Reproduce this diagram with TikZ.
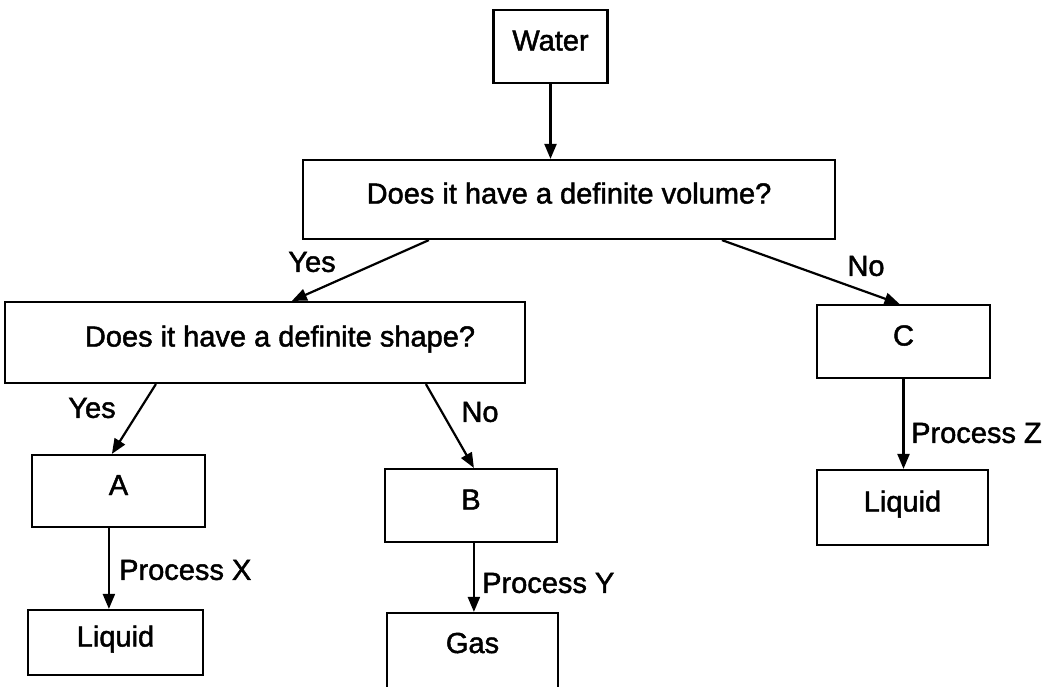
\documentclass[tikz,border=0pt]{standalone}
\usepackage{fontspec}
\setmainfont{Liberation Sans}
\newfontfamily\heavyfont{Liberation Sans}[FakeBold=1.6]
\usetikzlibrary{arrows.meta}
\begin{document}
\begin{tikzpicture}[x=1pt,y=-1pt,
  box/.style={draw, line width=2.2pt, rectangle, inner sep=0pt, text height=21pt, text depth=13pt,
    font=\heavyfont\fontsize{29}{34}\selectfont},
  arr/.style={-{Triangle[length=15pt,width=12pt]}, line width=2.2pt},
  lbl/.style={font=\heavyfont\fontsize{29}{34}\selectfont, inner sep=0pt}]
\useasboundingbox (0,0) rectangle (1054,686);
\clip (0,0) rectangle (1054,686);
\node[box, minimum width=114pt, minimum height=73pt] (water) at (550.5,46.5) {Water};
\node[box, minimum width=532pt, minimum height=79pt] (vol) at (569,199.5) {Does it have a definite volume?};
\node[box, minimum width=520pt, minimum height=81pt] (shape) at (265,342.5) {\hspace*{30pt}Does it have a definite shape?};
\node[box, minimum width=173pt, minimum height=73pt] (C) at (903.5,341.5) {C};
\node[box, minimum width=171pt, minimum height=75pt] (L2) at (902.5,507.5) {Liquid};
\node[box, minimum width=173pt, minimum height=72pt] (A) at (118.5,491) {A};
\node[box, minimum width=175pt, minimum height=65pt] (L1) at (115.5,642.5) {Liquid};
\node[box, minimum width=172pt, minimum height=73pt] (B) at (471,505.5) {B};
\node[box, minimum width=171pt, minimum height=90pt] (gas) at (472.5,658) {\raisebox{9pt}{Gas}};

\draw[arr] (water.south) -- (water.south |- vol.north);
\draw[arr] ([xshift=127pt]vol.south west) -- ([xshift=288pt]shape.north west);
\draw[arr] ([xshift=420pt]vol.south west) -- ([xshift=-4pt]C.north);
\draw[arr] ([xshift=152pt]shape.south west) -- ([xshift=81pt]A.north west);
\draw[arr] ([xshift=422pt]shape.south west) -- ([xshift=90pt]B.north west);
\draw[arr] ([xshift=78pt]A.south west) -- ([xshift=78pt]A.south west |- L1.north);
\draw[arr] ([xshift=90pt]B.south west) -- ([xshift=90pt]B.south west |- gas.north);
\draw[arr] (C.south) -- (C.south |- L2.north);

\node[lbl] (yes1) at (312,262) {Yes};
\node[lbl] (no1) at (866,266) {No};
\node[lbl] (yes2) at (92,408) {Yes};
\node[lbl] (no2) at (480,412) {No};
\node[lbl, anchor=west] (px) at (119,570) {Process X};
\node[lbl, anchor=west] (py) at (482,583) {Process Y};
\node[lbl, anchor=west] (pz) at (911,433) {Process Z};
\end{tikzpicture}
\end{document}
